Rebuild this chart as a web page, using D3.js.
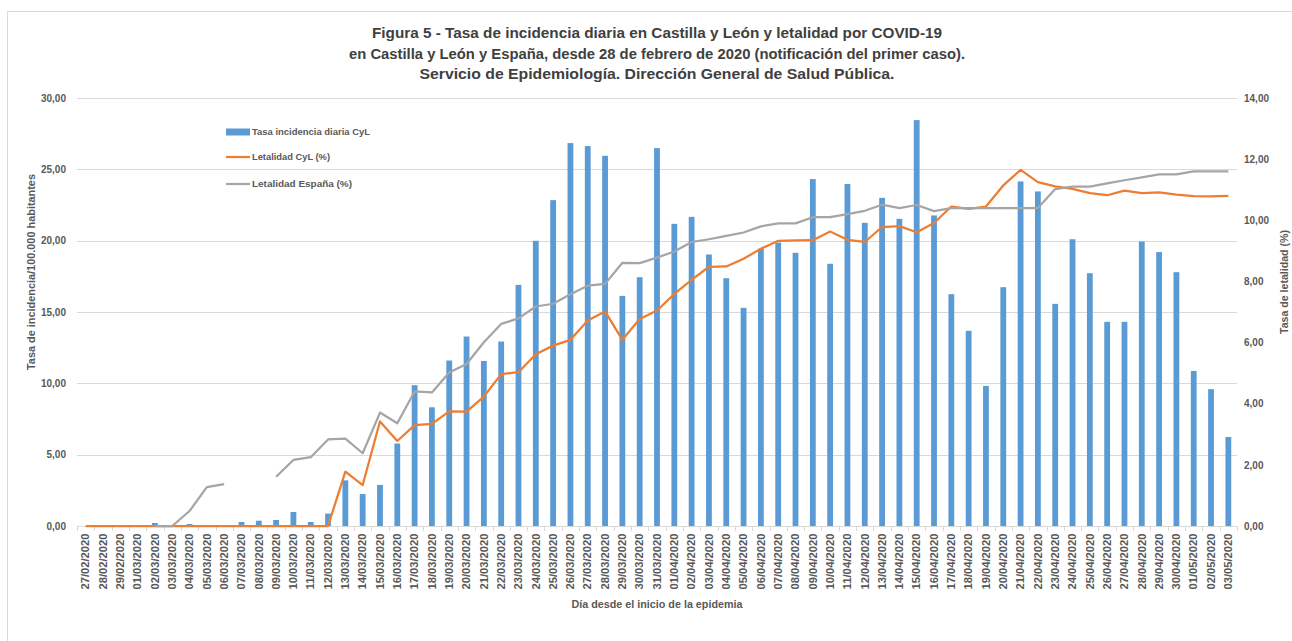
<!DOCTYPE html>
<html>
<head>
<meta charset="utf-8">
<script src="https://cdn.jsdelivr.net/npm/d3@7/dist/d3.min.js"></script>
<style>
  body { margin: 0; background: #fff; }
  svg { display: block; }
  text { font-family: "Liberation Sans", Arial, sans-serif; }
</style>
</head>
<body>
<svg id="chart" width="1292" height="641"></svg>
<script>
const dates = ["27/02/2020","28/02/2020","29/02/2020","01/03/2020","02/03/2020","03/03/2020","04/03/2020","05/03/2020","06/03/2020","07/03/2020","08/03/2020","09/03/2020","10/03/2020","11/03/2020","12/03/2020","13/03/2020","14/03/2020","15/03/2020","16/03/2020","17/03/2020","18/03/2020","19/03/2020","20/03/2020","21/03/2020","22/03/2020","23/03/2020","24/03/2020","25/03/2020","26/03/2020","27/03/2020","28/03/2020","29/03/2020","30/03/2020","31/03/2020","01/04/2020","02/04/2020","03/04/2020","04/04/2020","05/04/2020","06/04/2020","07/04/2020","08/04/2020","09/04/2020","10/04/2020","11/04/2020","12/04/2020","13/04/2020","14/04/2020","15/04/2020","16/04/2020","17/04/2020","18/04/2020","19/04/2020","20/04/2020","21/04/2020","22/04/2020","23/04/2020","24/04/2020","25/04/2020","26/04/2020","27/04/2020","28/04/2020","29/04/2020","30/04/2020","01/05/2020","02/05/2020","03/05/2020"];

const incidenciaCyL = [0,0,0,0,0.21,0,0.14,0,0,0.28,0.37,0.42,0.98,0.28,0.87,3.2,2.24,2.88,5.78,9.87,8.32,11.6,13.28,11.57,12.93,16.9,19.99,22.84,26.84,26.63,25.95,16.13,17.44,26.49,21.18,21.67,19.03,17.37,15.29,19.43,19.87,19.15,24.32,18.38,23.97,21.25,23.0,21.53,28.45,21.77,16.25,13.68,9.82,16.74,24.15,23.45,15.57,20.1,17.72,14.31,14.31,19.94,19.2,17.79,10.87,9.59,6.24];

const letalidadCyL = [0,0,0,0,0,0,0,0,0,0,0,0,0,0,0,1.78,1.34,3.42,2.78,3.30,3.34,3.75,3.74,4.23,4.97,5.03,5.62,5.90,6.09,6.72,7.02,6.09,6.77,7.05,7.59,8.05,8.48,8.49,8.74,9.07,9.33,9.34,9.35,9.63,9.36,9.29,9.78,9.81,9.61,9.91,10.45,10.37,10.45,11.14,11.65,11.25,11.11,11.03,10.89,10.82,10.97,10.89,10.91,10.84,10.79,10.78,10.80];

const letalidadEspana = [null,null,null,null,0,0,0.49,1.27,1.37,null,null,1.61,2.16,2.25,2.83,2.86,2.38,3.71,3.36,4.40,4.37,5.02,5.30,6.01,6.61,6.79,7.18,7.27,7.58,7.86,7.92,8.61,8.60,8.78,8.98,9.29,9.38,9.49,9.60,9.80,9.90,9.90,10.10,10.10,10.20,10.31,10.51,10.40,10.50,10.30,10.40,10.40,10.40,10.40,10.40,10.40,11.02,11.10,11.10,11.21,11.31,11.40,11.50,11.50,11.60,11.60,11.60];

const leftTicks = [0,5,10,15,20,25,30];
const rightTicks = [0,2,4,6,8,10,12,14];

const titleLines = [
  "Figura 5 - Tasa de incidencia diaria en Castilla y León y letalidad por COVID-19",
  "en Castilla y León y España, desde 28 de febrero de 2020 (notificación del primer caso).",
  "Servicio de Epidemiología. Dirección General de Salud Pública."
];
const seriesNames = ["Tasa incidencia diaria CyL", "Letalidad CyL (%)", "Letalidad España (%)"];
const colors = ["#5B9BD5", "#ED7D31", "#A5A5A5"];

const svg = d3.select("#chart");
const W = 1292, H = 641;
const m = {left: 77, right: 1237, top: 98, bottom: 526};
const txt = "#595959";
const fmt = v => d3.format(".2f")(v).replace(".", ",");

// outer border
svg.append("rect").attr("x", 7.5).attr("y", 11.5).attr("width", W).attr("height", H)
  .attr("fill", "none").attr("stroke", "#d9d9d9").attr("stroke-width", 1);

const x = d3.scaleBand().domain(dates).range([m.left, m.right]).paddingInner(0).paddingOuter(0);
const yL = d3.scaleLinear().domain([0, 30]).range([m.bottom, m.top]);
const yR = d3.scaleLinear().domain([0, 14]).range([m.bottom, m.top]);

// gridlines
svg.append("g").selectAll("line").data(leftTicks.slice(1)).join("line")
  .attr("x1", m.left).attr("x2", m.right)
  .attr("y1", d => Math.round(yL(d)) + 0.5).attr("y2", d => Math.round(yL(d)) + 0.5)
  .attr("stroke", "#d9d9d9").attr("stroke-width", 1);

// left axis
const axL = svg.append("g").attr("transform", `translate(${m.left},0)`)
  .call(d3.axisLeft(yL).tickValues(leftTicks).tickFormat(fmt).tickSize(0).tickPadding(11));
axL.select(".domain").remove();
axL.selectAll("text").attr("fill", txt).style("font-size", "10px").style("font-weight", "bold")
  .style("font-family", "'Liberation Sans', Arial, sans-serif");

// right axis
const axR = svg.append("g").attr("transform", `translate(${m.right},0)`)
  .call(d3.axisRight(yR).tickValues(rightTicks).tickFormat(fmt).tickSize(0).tickPadding(7));
axR.select(".domain").remove();
axR.selectAll("text").attr("fill", txt).style("font-size", "10px").style("font-weight", "bold")
  .style("font-family", "'Liberation Sans', Arial, sans-serif");

// bars
const bw = 5.8;
svg.append("g").selectAll("rect").data(incidenciaCyL).join("rect")
  .attr("x", (d, i) => x(dates[i]) + x.bandwidth() / 2 - bw / 2)
  .attr("width", bw)
  .attr("y", d => yL(d))
  .attr("height", d => m.bottom - yL(d))
  .attr("fill", colors[0]);

// x axis
const axX = svg.append("g").attr("transform", `translate(0,${m.bottom + 0.5})`)
  .call(d3.axisBottom(x).tickSize(0).tickPadding(0));
axX.select(".domain").attr("stroke", "#d9d9d9").attr("d", `M${m.left},0H${m.right}`);
axX.selectAll(".tick text")
  .attr("transform", "rotate(-90)")
  .attr("x", -7).attr("y", 0).attr("dy", "0.36em")
  .style("text-anchor", "end")
  .attr("fill", txt).style("font-size", "10.4px").style("font-weight", "bold")
  .style("font-family", "'Liberation Sans', Arial, sans-serif")
  .attr("textLength", 56).attr("lengthAdjust", "spacingAndGlyphs");
// category separators
svg.append("g").selectAll("line").data(d3.range(dates.length + 1)).join("line")
  .attr("x1", i => Math.round(m.left + i * x.step()) + 0.5)
  .attr("x2", i => Math.round(m.left + i * x.step()) + 0.5)
  .attr("y1", m.bottom).attr("y2", m.bottom + 5)
  .attr("stroke", "#d9d9d9");

// lines
const cx = i => x(dates[i]) + x.bandwidth() / 2;
const lineCyL = d3.line().x((d, i) => cx(i)).y(d => yR(d));
svg.append("path").datum(letalidadCyL).attr("d", lineCyL)
  .attr("fill", "none").attr("stroke", colors[1]).attr("stroke-width", 2.25).attr("stroke-linejoin", "round");
const lineEs = d3.line().defined(d => d !== null).x((d, i) => cx(i)).y(d => yR(d));
svg.append("path").datum(letalidadEspana).attr("d", lineEs)
  .attr("fill", "none").attr("stroke", colors[2]).attr("stroke-width", 2.25).attr("stroke-linejoin", "round");

// title
const title = svg.append("g");
const titleWidths = [570, 616, 475];
titleLines.forEach((t, i) => {
  title.append("text").attr("x", 657).attr("y", 38 + i * 20.5)
    .attr("text-anchor", "middle").attr("fill", "#404040")
    .style("font-size", "14px").style("font-weight", "bold")
    .attr("textLength", titleWidths[i]).attr("lengthAdjust", "spacingAndGlyphs")
    .text(t);
});

// axis titles
svg.append("text").attr("transform", "translate(35,272) rotate(-90)")
  .attr("text-anchor", "middle").attr("fill", txt)
  .style("font-size", "10px").style("font-weight", "bold")
  .attr("textLength", 196).attr("lengthAdjust", "spacingAndGlyphs")
  .text("Tasa de incidencia/100.000 habitantes");
svg.append("text").attr("transform", "translate(1288,282) rotate(-90)")
  .attr("text-anchor", "middle").attr("fill", txt)
  .style("font-size", "10px").style("font-weight", "bold")
  .attr("textLength", 104).attr("lengthAdjust", "spacingAndGlyphs")
  .text("Tasa de letalidad (%)");
svg.append("text").attr("x", 657).attr("y", 608)
  .attr("text-anchor", "middle").attr("fill", txt)
  .style("font-size", "10px").style("font-weight", "bold")
  .attr("textLength", 171).attr("lengthAdjust", "spacingAndGlyphs")
  .text("Día desde el inicio de la epidemia");

// legend
const lg = svg.append("g");
const legY = [132, 157, 184];
const legW = [118, 78, 100];
seriesNames.forEach((n, i) => {
  if (i === 0) {
    lg.append("rect").attr("x", 226).attr("y", legY[i] - 3.5).attr("width", 24).attr("height", 7).attr("fill", colors[0]);
  } else {
    lg.append("line").attr("x1", 226).attr("x2", 250).attr("y1", legY[i]).attr("y2", legY[i])
      .attr("stroke", colors[i]).attr("stroke-width", 2.25);
  }
  lg.append("text").attr("x", 252).attr("y", legY[i]).attr("dy", "0.35em")
    .attr("fill", txt).style("font-size", "9px").style("font-weight", "bold")
    .attr("textLength", legW[i]).attr("lengthAdjust", "spacingAndGlyphs")
    .text(n);
});
</script>
</body>
</html>
